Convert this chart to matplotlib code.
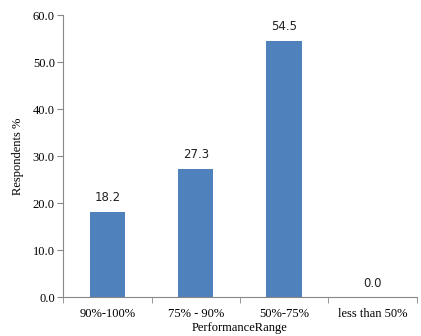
import matplotlib
matplotlib.use("Agg")
import matplotlib.pyplot as plt
import numpy as np

categories = ["90%-100%", "75% - 90%", "50%-75%", "less than 50%"]
values = [18.2, 27.3, 54.5, 0.0]
yticks = [0, 10, 20, 30, 40, 50, 60]

fig = plt.figure(figsize=(4.21, 3.36), dpi=100)
ax = fig.add_axes([0.150, 0.116, 0.840, 0.839])
x = np.arange(len(categories))
ax.bar(x, values, width=0.4, color="#4F81BD", zorder=2)
for xi, v in zip(x, values):
    ax.text(xi, v + 1.6, f"{v:.1f}", ha="center", va="bottom", fontsize=8.5,
            family="DejaVu Sans", color="#222222")

ax.set_xlim(-0.5, len(categories) - 0.5)
ax.set_ylim(0, 60)
ax.set_yticks(yticks)
ax.set_yticklabels([f"{t:.1f}" for t in yticks], family="Liberation Serif", fontsize=9)
ax.set_xticks(x)
ax.set_xticklabels(categories, family="Liberation Serif", fontsize=9)
ax.set_xticks(np.arange(-0.5, len(categories)), minor=True)
ax.tick_params(axis="x", which="major", length=0, pad=8)
ax.tick_params(axis="x", which="minor", length=4, color="#888888", direction="out")
ax.tick_params(axis="y", length=4, color="#888888", direction="out", pad=2)
for s in ["top", "right"]:
    ax.spines[s].set_visible(False)
for s in ["left", "bottom"]:
    ax.spines[s].set_color("#888888")
    ax.spines[s].set_linewidth(0.8)
ax.set_ylabel("Respondents %", family="Liberation Serif", fontsize=9, labelpad=6)
ax.set_xlabel("PerformanceRange", family="Liberation Serif", fontsize=9, labelpad=1)
fig.savefig("out.png", dpi=100)
